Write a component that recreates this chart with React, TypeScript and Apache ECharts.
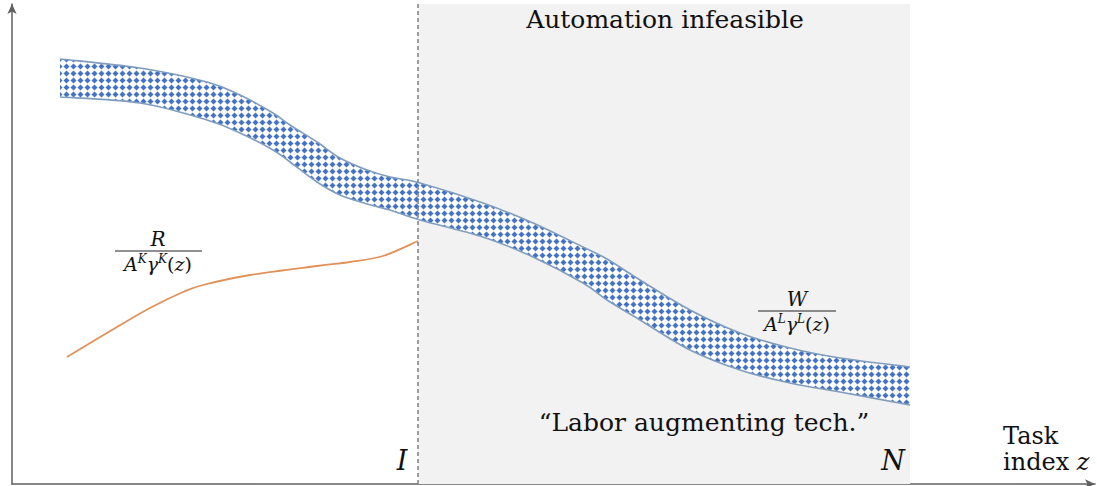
import React, { useEffect, useRef } from "react";
import * as echarts from "echarts";

// Task index positions (axis units) sampled along the wage band
const taskIndex = [48, 128, 195, 228, 261, 278, 305, 328, 355, 378, 408, 471, 521, 571, 595, 628, 678, 728, 778, 828, 898];
// lower and upper edges of the W / (A^L gamma^L(z)) band
const bandLower = [387, 381, 364, 351, 334, 322, 302, 289, 280, 274, 264, 247, 227, 201, 184, 164, 134, 114, 101, 92, 79];
const bandUpper = [425, 416, 402, 389, 371, 359, 342, 326, 314, 307, 301, 281, 261, 237, 225, 204, 174, 151, 136, 126, 117];
// R / (A^K gamma^K(z)) curve
const costZ = [55, 105, 138, 171, 191, 238, 305, 338, 371, 406];
const costValue = [127, 157, 176, 192, 199, 209, 218, 222, 228, 243];
// thresholds
const thresholdI = 406;
const frontierN = 898;
const axisMaxX = 1083;
const axisMaxY = 480;

const FAM = "DejaVu Serif";

function makePattern() {
  const s = 7;
  const c = document.createElement("canvas");
  c.width = s;
  c.height = s;
  const ctx = c.getContext("2d")!;
  ctx.fillStyle = "#ffffff";
  ctx.fillRect(0, 0, s, s);
  ctx.fillStyle = "#4472c4";
  ctx.beginPath();
  ctx.moveTo(3.5, 0.5);
  ctx.lineTo(6.5, 3.5);
  ctx.lineTo(3.5, 6.5);
  ctx.lineTo(0.5, 3.5);
  ctx.closePath();
  ctx.fill();
  return { image: c.toDataURL(), repeat: "repeat", imageWidth: s, imageHeight: s };
}

function curvePath(pts: number[][], move: boolean) {
  let d = move ? `M${pts[0][0]},${pts[0][1]}` : `L${pts[0][0]},${pts[0][1]}`;
  for (let i = 0; i < pts.length - 1; i++) {
    const p0 = pts[i - 1] || pts[i];
    const p1 = pts[i];
    const p2 = pts[i + 1];
    const p3 = pts[i + 2] || p2;
    const c1x = p1[0] + (p2[0] - p0[0]) / 6;
    const c1y = p1[1] + (p2[1] - p0[1]) / 6;
    const c2x = p2[0] - (p3[0] - p1[0]) / 6;
    const c2y = p2[1] - (p3[1] - p1[1]) / 6;
    d += ` C${c1x},${c1y} ${c2x},${c2y} ${p2[0]},${p2[1]}`;
  }
  return d;
}

const txt = (x: number, y: number, text: string, size: number, italic = false, align = "center") => ({
  type: "text",
  z: 100,
  x,
  y,
  style: {
    text,
    fontSize: size,
    fontFamily: FAM,
    fontStyle: italic ? "italic" : "normal",
    fill: "#111",
    textAlign: align,
    textVerticalAlign: "middle",
  },
});

const fracDen = (x: number, y: number, sup: string) => ({
  type: "text",
  z: 100,
  x,
  y,
  style: {
    text: `{i|A}{s|${sup}}{i|\u03B3}{s|${sup}}{r|(}{i|z}{r|)}`,
    fontSize: 19,
    fontFamily: FAM,
    textAlign: "center",
    textVerticalAlign: "middle",
    fill: "#111",
    rich: {
      i: { fontSize: 19, fontFamily: FAM, fontStyle: "italic", fill: "#111", lineHeight: 22 },
      s: { fontSize: 12, fontFamily: FAM, fontStyle: "italic", fill: "#111", verticalAlign: "top", lineHeight: 22 },
      r: { fontSize: 19, fontFamily: FAM, fill: "#111", lineHeight: 22 },
    },
  },
});

export default function App() {
  const ref = useRef<HTMLDivElement>(null);
  useEffect(() => {
    if (!ref.current) return;
    const chart = echarts.init(ref.current, null, { renderer: "svg" });
    const pattern = makePattern();
    const edge = "#7f9dbf";

    const option: any = {
      animation: false,
      grid: { left: 12, top: 4, width: 1083, height: 480, containLabel: false },
      xAxis: {
        type: "value",
        min: 0,
        max: axisMaxX,
        axisLine: { show: true, symbol: ["none", "arrow"], symbolSize: [7, 10], lineStyle: { color: "#606060", width: 1.5 } },
        axisTick: { show: false },
        axisLabel: { show: false },
        splitLine: { show: false },
      },
      yAxis: {
        type: "value",
        min: 0,
        max: axisMaxY,
        axisLine: { show: true, symbol: ["none", "arrow"], symbolSize: [7, 10], lineStyle: { color: "#606060", width: 1.5 } },
        axisTick: { show: false },
        axisLabel: { show: false },
        splitLine: { show: false },
      },
      series: [
        {
          type: "custom",
          z: 3,
          silent: true,
          data: [[taskIndex[0], bandLower[0]]],
          encode: { x: 0, y: 1 },
          renderItem: (_params: any, api: any) => {
            const up = taskIndex.map((z, i) => api.coord([z, bandUpper[i]]));
            const lo = taskIndex.map((z, i) => api.coord([z, bandLower[i]]));
            const loRev = lo.slice().reverse();
            const fillD = curvePath(up, true) + " " + curvePath(loRev, false) + " Z";
            return {
              type: "group",
              children: [
                { type: "path", shape: { pathData: fillD }, style: { fill: pattern, stroke: null } },
                { type: "path", shape: { pathData: curvePath(up, true) }, style: { fill: null, stroke: edge, lineWidth: 1.6 } },
                { type: "path", shape: { pathData: curvePath(lo, true) }, style: { fill: null, stroke: edge, lineWidth: 1.6 } },
              ],
            };
          },
        },
        {
          type: "custom",
          z: 4,
          silent: true,
          data: [[costZ[0], costValue[0]]],
          encode: { x: 0, y: 1 },
          renderItem: (_params: any, api: any) => {
            const pts = costZ.map((z, i) => api.coord([z, costValue[i]]));
            return { type: "path", shape: { pathData: curvePath(pts, true) }, style: { fill: null, stroke: "#e0925a", lineWidth: 1.8 } };
          },
        },
        {
          type: "line",
          z: 2,
          symbol: "none",
          silent: true,
          data: [],
          markArea: {
            silent: true,
            itemStyle: { color: "#f2f2f2" },
            data: [[{ xAxis: thresholdI, yAxis: 0 }, { xAxis: frontierN, yAxis: axisMaxY }]],
          },
          markLine: {
            silent: true,
            symbol: "none",
            label: { show: false },
            lineStyle: { color: "#808080", width: 1.5, type: [4, 3] },
            data: [{ xAxis: thresholdI }],
          },
        },
      ],
      graphic: [
        txt(665, 19, "Automation infeasible", 25),
        txt(704, 422, "\u201CLabor augmenting tech.\u201D", 25),
        txt(402, 460, "I", 27, true),
        txt(893, 460, "N", 27, true),
        txt(1003, 436, "Task", 24, false, "left"),
        {
          type: "text",
          z: 100,
          x: 1003,
          y: 462,
          style: {
            text: "{r|index }{i|z}",
            fontSize: 24,
            fontFamily: FAM,
            textAlign: "left",
            textVerticalAlign: "middle",
            fill: "#111",
            rich: {
              r: { fontSize: 24, fontFamily: FAM, fill: "#111" },
              i: { fontSize: 24, fontFamily: FAM, fontStyle: "italic", fill: "#111" },
            },
          },
        },
        // R fraction
        txt(158, 239, "R", 20, true),
        { type: "line", z: 100, shape: { x1: 115, y1: 251, x2: 202, y2: 251 }, style: { stroke: "#222", lineWidth: 1.2 } },
        fracDen(158, 264, "K"),
        // W fraction
        txt(797, 299, "W", 20, true),
        { type: "line", z: 100, shape: { x1: 758, y1: 311, x2: 836, y2: 311 }, style: { stroke: "#222", lineWidth: 1.2 } },
        fracDen(797, 324, "L"),
      ],
    };
    chart.setOption(option);
    return () => chart.dispose();
  }, []);
  return <div ref={ref} style={{ position: "fixed", left: 0, top: 0, width: 1097, height: 486, background: "#fff" }} />;
}
